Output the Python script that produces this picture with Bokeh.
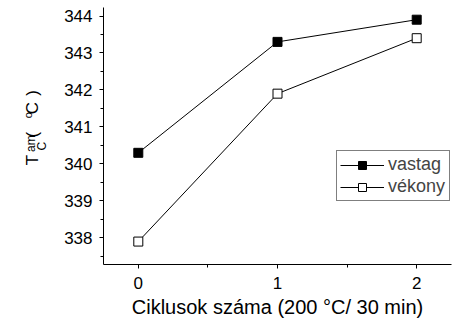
import math
from bokeh.plotting import figure
from bokeh.layouts import row
from bokeh.models import FixedTicker, Range1d, Legend, LegendItem, Label
from bokeh.embed import file_html
from bokeh.resources import INLINE

# ---- data ----
cycles = [0, 1, 2]
vastag = [340.3, 343.3, 343.9]
vekony = [337.9, 341.9, 343.4]
series_names = ["vastag", "vékony"]
x_ticks = [0, 1, 2]
x_minor = [0.5, 1.5]
y_ticks = [338, 339, 340, 341, 342, 343, 344]
y_minor = [337.5, 338.5, 339.5, 340.5, 341.5, 342.5, 343.5]
x_label = "Ciklusok száma (200 °C/ 30 min)"

# ---- layout ----
X0, X1 = -0.25, 2.25
Y0, Y1 = 337.28, 344.23
W, H = 457, 320
LW = 50                      # width of the strip holding the y-axis title
L, R, T, B = 103, 451, 7, 266
FONT = "Liberation Sans"

p = figure(width=W - LW, height=H, x_range=Range1d(X0, X1), y_range=Range1d(Y0, Y1),
           output_backend="svg", toolbar_location=None,
           min_border_left=L - LW, min_border_right=W - R,
           min_border_top=T, min_border_bottom=H - B)
p.outline_line_color = None
p.grid.visible = False
p.background_fill_color = "white"
p.border_fill_color = "white"

p.xaxis.ticker = FixedTicker(ticks=x_ticks, minor_ticks=x_minor)
p.yaxis.ticker = FixedTicker(ticks=y_ticks, minor_ticks=y_minor)
for ax in (p.xaxis, p.yaxis):
    ax.axis_line_color = "black"
    ax.axis_line_width = 1
    ax.major_tick_line_color = "black"
    ax.minor_tick_line_color = "black"
    ax.major_tick_out = 4
    ax.major_tick_in = 0
    ax.minor_tick_out = 3
    ax.minor_tick_in = 0
    ax.major_label_text_font = FONT
    ax.major_label_text_font_size = "17px"
    ax.major_label_text_color = "black"
p.xaxis.major_label_standoff = 8
p.yaxis.major_label_standoff = 7
p.xaxis.axis_label = x_label
p.xaxis.axis_label_text_font = FONT
p.xaxis.axis_label_text_font_size = "20px"
p.xaxis.axis_label_text_font_style = "normal"
p.xaxis.axis_label_text_color = "black"
p.xaxis.axis_label_standoff = 4

l1 = p.line(cycles, vastag, line_color="black", line_width=1)
l2 = p.line(cycles, vekony, line_color="black", line_width=1)
s1 = p.scatter(cycles, vastag, marker="square", size=9, fill_color="black", line_color="black", line_width=1)
s2 = p.scatter(cycles, vekony, marker="square", size=9, fill_color="white", line_color="black", line_width=1)

legend = Legend(items=[LegendItem(label=series_names[0], renderers=[l1, s1]),
                       LegendItem(label=series_names[1], renderers=[l2, s2])],
                location=(233, 63), border_line_color="black", border_line_width=1,
                padding=3, spacing=1, margin=0, glyph_width=44, glyph_height=20,
                label_height=20, label_width=58, label_standoff=4,
                label_text_font=FONT, label_text_font_size="18px",
                background_fill_alpha=1.0)
p.add_layout(legend)

# ---- strip with the y-axis title (sub/superscripts as rotated text pieces) ----
# In a row the strip's frame is aligned with the main frame (rows T..B),
# so its y range is chosen so that y = H - (pixel row from top).
q = figure(width=LW, height=H, x_range=Range1d(0, LW), y_range=Range1d(H - B, H - T),
           output_backend="svg", toolbar_location=None,
           x_axis_location=None, y_axis_location=None,
           min_border_left=0, min_border_right=0, min_border_top=T, min_border_bottom=H - B)
q.outline_line_color = None
q.grid.visible = False
q.background_fill_color = "white"
q.border_fill_color = "white"

# (text, baseline x in px, start y in px from top, font size px)
pieces = [
    ("T", 37.7, 166, 17),
    ("C", 46.3, 151, 12),
    ("am", 35.3, 152.5, 12),
    ("(", 38.0, 138, 17),
    ("o", 31.7, 118.5, 11),
    ("C", 38.0, 114.5, 17),
    (")", 38.0, 96, 17),
]
for txt, bx, sy, fs in pieces:
    q.add_layout(Label(x=bx - 0.36 * fs, y=H - sy, text=txt, angle=math.pi / 2,
                       text_font=FONT, text_font_size=f"{fs}px", text_color="black",
                       text_align="left", text_baseline="middle"))

layout = row(q, p, spacing=0)
open("out.html", "w").write(file_html(layout, INLINE))
